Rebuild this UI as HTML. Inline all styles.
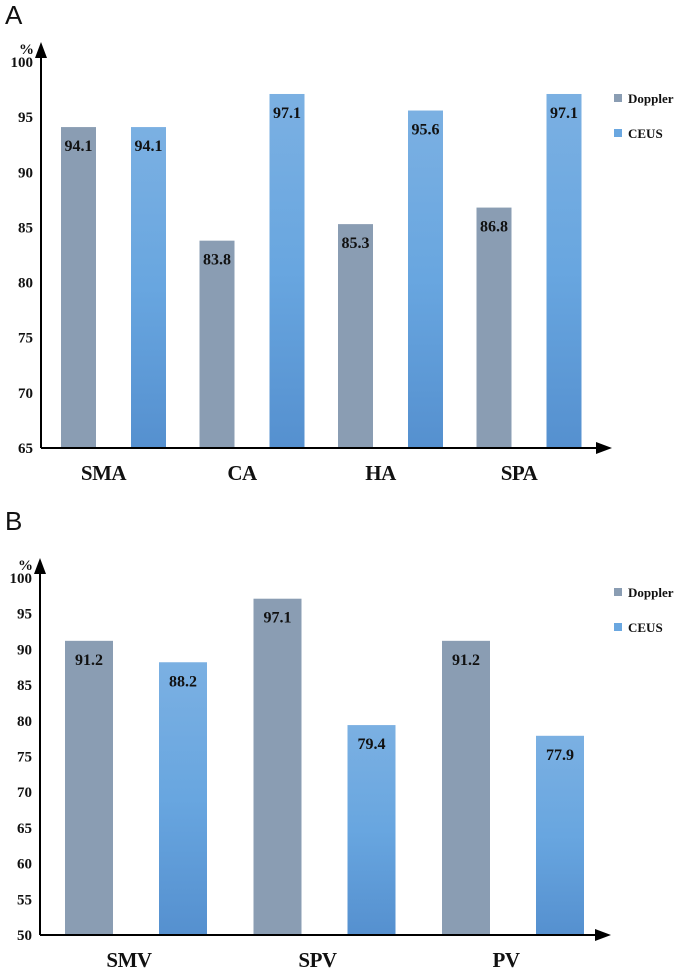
<!DOCTYPE html>
<html><head><meta charset="utf-8"><style>
body{margin:0;background:#fff}
svg{display:block}
.t{font-family:"Liberation Serif",serif;font-weight:bold;fill:#111}
</style></head><body>
<svg width="685" height="971">
<defs>
<linearGradient id="ceus" x1="0" y1="0" x2="0" y2="1"><stop offset="0" stop-color="#7bb0e2"/><stop offset="0.5" stop-color="#68a6e0"/><stop offset="1" stop-color="#5590cf"/></linearGradient>
<marker id="arr" markerWidth="8" markerHeight="8" refX="4" refY="4" orient="auto"><path d="M0,1 L8,4 L0,7 Z" fill="#000"/></marker>
</defs>
<g id="root"></g>
</svg>
<script>
const catsA=["SMA","CA","HA","SPA"];
const dopA=[94.1,83.8,85.3,86.8];
const ceusA=[94.1,97.1,95.6,97.1];
const ticksA=[65,70,75,80,85,90,95,100];
const catsB=["SMV","SPV","PV"];
const dopB=[91.2,97.1,91.2];
const ceusB=[88.2,79.4,77.9];
const ticksB=[50,55,60,65,70,75,80,85,90,95,100];
const NS="http://www.w3.org/2000/svg";
const root=document.getElementById('root');
function mk(tag,attrs,parent){const e=document.createElementNS(NS,tag);for(const k in attrs)e.setAttribute(k,attrs[k]);(parent||root).appendChild(e);return e;}
function panel(cfg){
  const g=mk('g',{});
  
  
  const y=v=>cfg.base-(v-cfg.min)/(cfg.max-cfg.min)*(cfg.base-cfg.top);
  const L=mk('text',{x:5,y:cfg.letterY,'font-family':'Liberation Sans, sans-serif','font-size':26,fill:'#111'},g);L.textContent=cfg.letter;
  
  const p=mk('text',{x:cfg.axX-22,y:cfg.top-8,class:'t','font-size':15},g);p.textContent='%';
  
  cfg.ticks.forEach(t=>{const e=mk('text',{x:cfg.axX-8,y:y(t)+5,class:'t','font-size':15,'text-anchor':'end'},g);e.textContent=t;
    });
  cfg.cats.forEach((c,i)=>{
    const x0=cfg.x0+i*cfg.step;
    [[cfg.dop[i],'#8a9db3',x0],[cfg.ceus[i],'url(#ceus)',x0+cfg.gap]].forEach((d,j)=>{
      const r=mk('rect',{x:d[2],y:y(d[0]),width:cfg.bw,height:cfg.base-y(d[0]),fill:d[1]},g);
      
      
      const v=mk('text',{x:d[2]+cfg.bw/2,y:y(d[0])+24,class:'t','font-size':16,'text-anchor':'middle'},g);v.textContent=d[0].toFixed(1);
      
    });
    const cl=mk('text',{x:x0+(cfg.gap+cfg.bw)/2+cfg.lblOff,y:cfg.base+32,class:'t','font-size':21,'text-anchor':'middle','letter-spacing':'-0.5'},g);cl.textContent=c;
    
  });
  const ya=mk('line',{x1:cfg.axX,y1:cfg.base,x2:cfg.axX,y2:cfg.top-12,stroke:'#000','stroke-width':2,'marker-end':'url(#arr)'},g);
  
  const xa=mk('line',{x1:cfg.axX,y1:cfg.base,x2:cfg.xEnd,y2:cfg.base,stroke:'#000','stroke-width':2,'marker-end':'url(#arr)'},g);
  
  [['Doppler','#8a9db3'],['CEUS','#6aa7e0']].forEach((l,i)=>{
    const lg=mk('g',{},g);
    mk('rect',{x:614,y:cfg.legY+i*35-4,width:8,height:8,fill:l[1]},lg);
    const tx=mk('text',{x:628,y:cfg.legY+i*35+5,class:'t','font-size':13},lg);tx.textContent=l[0];
  });
}
panel({letter:'A',letterY:24,axX:41,top:62,base:448,min:65,max:100,ticks:ticksA,cats:catsA,dop:dopA,ceus:ceusA,x0:61,step:138.5,gap:70,bw:35,xEnd:604,lblOff:-10,legY:98});
panel({letter:'B',letterY:530,axX:40,top:578,base:935,min:50,max:100,ticks:ticksB,cats:catsB,dop:dopB,ceus:ceusB,x0:65,step:188.5,gap:94,bw:48,xEnd:603,lblOff:-7,legY:592});
</script>
</body></html>
